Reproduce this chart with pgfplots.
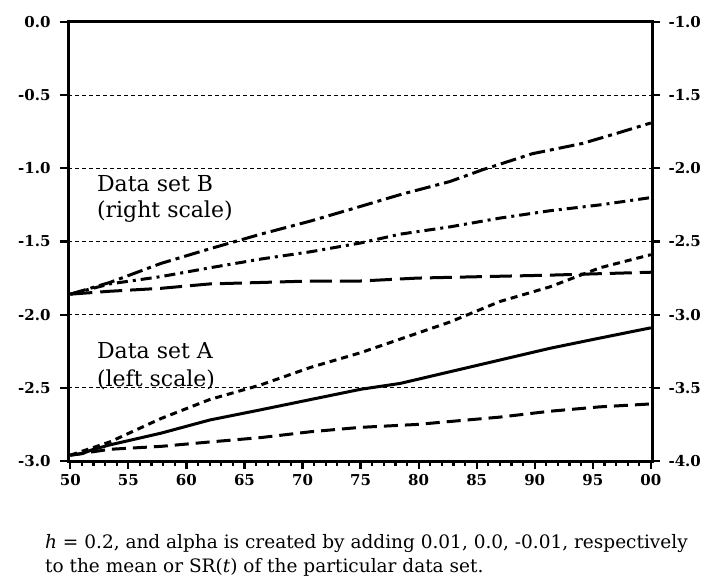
\documentclass[border=0pt]{standalone}
\usepackage{pgfplots}
\pgfplotsset{compat=1.18}
\usepackage{fontspec}
\setmainfont{DejaVu Serif}

\begin{document}
\begin{tikzpicture}
\pgfplotsset{
  common/.style={
    scale only axis, width=584pt, height=439pt,
    xmin=49.8, xmax=100.1,
    axis line style={line width=3pt, -},
    tick style={line width=2.2pt, black},
    tick align=outside,
    major tick length=8pt, minor tick length=5pt,
    ticklabel style={font=\fontsize{15}{17}\selectfont\bfseries},
    every axis plot/.append style={line width=3pt, black},
  }
}
\begin{axis}[common,
  ymin=-3, ymax=0,
  xtick={50,55,...,100},
  xticklabels={50,55,60,65,70,75,80,85,90,95,00},
  minor x tick num=4,
  xtick pos=bottom, ytick pos=left,
  ytick={-3,-2.5,...,0},
  yticklabels={-3.0,-2.5,-2.0,-1.5,-1.0,-0.5,0.0},
  yticklabel style={xshift=-6pt},
  xticklabel style={yshift=-2pt},
  ymajorgrids,
  grid style={line width=0.8pt, black, dash pattern=on 4pt off 3pt},
]
\coordinate (SW) at (rel axis cs:0,0);
\coordinate (NE) at (rel axis cs:1,1);
% Data set A (left scale)
\addplot[solid] coordinates {(50,-2.96) (51,-2.95) (52,-2.92) (53.4,-2.89) (57.8,-2.81) (62,-2.72) (66.4,-2.65) (70.7,-2.58) (75,-2.51) (78.4,-2.47) (82.7,-2.39) (87,-2.31) (91.3,-2.23) (95.6,-2.16) (100,-2.09)};
\addplot[dash pattern=on 7pt off 5pt] coordinates {(50,-2.96) (53.4,-2.87) (57.8,-2.71) (62,-2.58) (66.4,-2.48) (70.7,-2.36) (75,-2.26) (82.7,-2.05) (87,-1.91) (91.3,-1.81) (95.6,-1.68) (100,-1.59)};
\addplot[dash pattern=on 14pt off 7pt] coordinates {(50,-2.96) (53.4,-2.92) (57.8,-2.90) (62,-2.87) (66.4,-2.84) (70.7,-2.80) (75,-2.77) (79.9,-2.75) (82.7,-2.73) (87,-2.70) (91.3,-2.66) (95.6,-2.63) (100,-2.61)};
\node[anchor=base west, font=\fontsize{22}{26}\selectfont] at (axis cs:52.0,-1.158) {Data set B};
\node[anchor=base west, font=\fontsize{22}{26}\selectfont] at (axis cs:52.0,-1.336) {(right scale)};
\node[anchor=base west, font=\fontsize{22}{26}\selectfont] at (axis cs:52.0,-2.30) {Data set A};
\node[anchor=base west, font=\fontsize{22}{26}\selectfont] at (axis cs:52.0,-2.493) {(left scale)};
\end{axis}
\begin{axis}[common,
  ymin=-4, ymax=-1,
  axis y line*=right, axis x line=none,
  ytick={-4,-3.5,...,-1},
  yticklabels={-4.0,-3.5,-3.0,-2.5,-2.0,-1.5,-1.0},
  yticklabel style={xshift=5pt},
]
% Data set B (right scale)
\addplot[dash pattern=on 16pt off 5pt on 4pt off 5pt] coordinates {(50,-2.86) (53.4,-2.78) (57.8,-2.65) (62,-2.55) (66.4,-2.45) (70.7,-2.36) (75,-2.26) (78.4,-2.18) (82.7,-2.09) (85.5,-2.01) (89.8,-1.90) (94.1,-1.83) (97.1,-1.76) (100,-1.69)};
\addplot[dash pattern=on 11pt off 5pt on 3pt off 5pt] coordinates {(50,-2.86) (53.4,-2.79) (57.8,-2.74) (62,-2.68) (66.4,-2.62) (70.7,-2.57) (75,-2.51) (78.4,-2.45) (82.7,-2.40) (87,-2.34) (91.3,-2.29) (95.6,-2.25) (100,-2.20)};
\addplot[dash pattern=on 22pt off 8pt] coordinates {(50,-2.86) (53.4,-2.84) (57.8,-2.82) (62,-2.79) (66.4,-2.78) (70.7,-2.77) (75,-2.77) (79.9,-2.75) (85.5,-2.74) (91.3,-2.73) (95.6,-2.72) (100,-2.71)};
\end{axis}
\node[anchor=base west, font=\fontsize{18.5}{24}\selectfont, inner sep=0pt] at ([shift={(-23pt,-87pt)}]SW) {\textit{h} = 0.2, and alpha is created by adding 0.01, 0.0, -0.01, respectively};
\node[anchor=base west, font=\fontsize{18.5}{24}\selectfont, inner sep=0pt] at ([shift={(-23pt,-111pt)}]SW) {to the mean or SR(\textit{t}) of the particular data set.};
\pgfresetboundingbox
\path[use as bounding box] ([shift={(-68pt,-120pt)}]SW) rectangle ([shift={(51pt,22pt)}]NE);
\end{tikzpicture}
\end{document}
